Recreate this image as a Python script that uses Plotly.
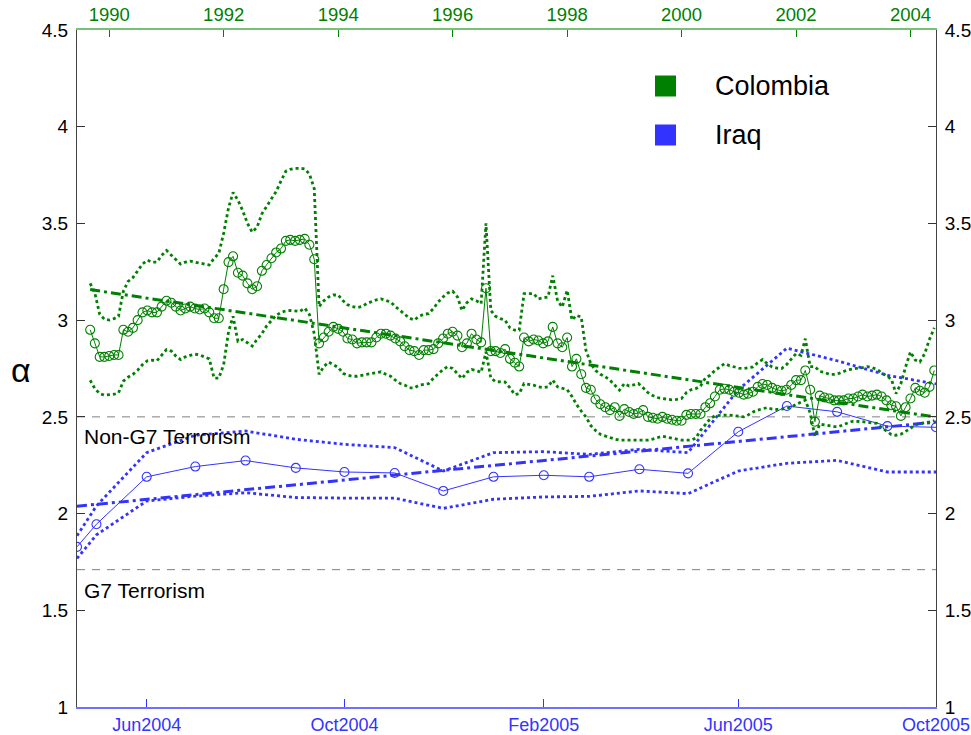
import pandas as pd
import plotly.graph_objects as go

# ---------------- data ----------------
series_names = ["Colombia", "Iraq"]

# Colombia: monthly estimates (top time axis)
col_start = "1989-09-01"
col_alpha = [
    2.95, 2.88, 2.81, 2.81, 2.815, 2.82, 2.82, 2.95, 2.94, 2.96,
    3.00, 3.04, 3.05, 3.04, 3.04, 3.07, 3.10, 3.09, 3.07, 3.05,
    3.06, 3.07, 3.06, 3.055, 3.06, 3.04, 3.01, 3.01, 3.16, 3.30,
    3.33, 3.245, 3.23, 3.19, 3.16, 3.175, 3.255, 3.285, 3.32, 3.35,
    3.37, 3.41, 3.415, 3.41, 3.415, 3.42, 3.39, 3.315, 2.88, 2.91,
    2.94, 2.965, 2.955, 2.94, 2.905, 2.90, 2.88, 2.885, 2.885, 2.885,
    2.91, 2.93, 2.93, 2.92, 2.905, 2.89, 2.865, 2.845, 2.84, 2.82,
    2.845, 2.845, 2.85, 2.88, 2.905, 2.93, 2.94, 2.92, 2.86, 2.88,
    2.93, 2.90, 2.885, 3.165, 2.84, 2.84, 2.83, 2.85, 2.80, 2.78,
    2.76, 2.91, 2.89, 2.90, 2.895, 2.88, 2.89, 2.965, 2.88, 2.86,
    2.91, 2.76, 2.80, 2.72, 2.65, 2.64, 2.59, 2.565, 2.55, 2.535,
    2.55, 2.505, 2.54, 2.525, 2.515, 2.52, 2.535, 2.50, 2.495, 2.49,
    2.50, 2.49, 2.485, 2.48, 2.48, 2.51, 2.515, 2.515, 2.515, 2.55,
    2.57, 2.605, 2.64, 2.645, 2.64, 2.63, 2.625, 2.615, 2.62, 2.63,
    2.655, 2.67, 2.665, 2.65, 2.64, 2.635, 2.64, 2.665, 2.69, 2.69,
    2.74, 2.64, 2.475, 2.61, 2.60, 2.595, 2.585, 2.585, 2.585, 2.595,
    2.595, 2.605, 2.615, 2.605, 2.61, 2.615, 2.605, 2.585, 2.56, 2.555,
    2.505, 2.55, 2.595, 2.65, 2.635, 2.625, 2.655, 2.74,
]
col_upper = [
    3.19, 3.14, 3.03, 3.005, 3.00, 3.008, 3.02, 3.15, 3.20, 3.22,
    3.255, 3.29, 3.31, 3.30, 3.30, 3.335, 3.36, 3.335, 3.31, 3.29,
    3.30, 3.305, 3.30, 3.295, 3.29, 3.285, 3.32, 3.345, 3.45, 3.58,
    3.66, 3.62, 3.567, 3.50, 3.455, 3.48, 3.55, 3.59, 3.63, 3.665,
    3.72, 3.77, 3.78, 3.785, 3.785, 3.782, 3.756, 3.68, 3.07, 3.10,
    3.12, 3.13, 3.13, 3.10, 3.08, 3.07, 3.065, 3.07, 3.085, 3.095,
    3.105, 3.11, 3.10, 3.094, 3.07, 3.05, 3.03, 3.01, 3.00, 3.02,
    3.03, 3.034, 3.06, 3.094, 3.12, 3.14, 3.15, 3.12, 3.05, 3.09,
    3.11, 3.10, 3.085, 3.50, 3.05, 3.02, 3.008, 3.00, 2.96, 2.948,
    2.948, 3.137, 3.137, 3.137, 3.11, 3.115, 3.12, 3.23, 3.10, 3.068,
    3.154, 3.00, 3.025, 3.016, 2.844, 2.775, 2.74, 2.72, 2.707, 2.69,
    2.665, 2.638, 2.672, 2.66, 2.665, 2.672, 2.65, 2.625, 2.61, 2.60,
    2.595, 2.59, 2.588, 2.59, 2.595, 2.625, 2.64, 2.646, 2.66, 2.70,
    2.715, 2.74, 2.76, 2.775, 2.765, 2.758, 2.752, 2.75, 2.752, 2.758,
    2.78, 2.796, 2.775, 2.758, 2.752, 2.75, 2.77, 2.80, 2.827, 2.818,
    2.904, 2.76, 2.76, 2.735, 2.73, 2.72, 2.72, 2.725, 2.735, 2.744,
    2.748, 2.75, 2.755, 2.76, 2.755, 2.745, 2.73, 2.715, 2.695, 2.62,
    2.672, 2.758, 2.836, 2.793, 2.784, 2.827, 2.90, 2.96,
]
col_lower = [
    2.689, 2.646, 2.62, 2.612, 2.615, 2.617, 2.624, 2.685, 2.705, 2.72,
    2.741, 2.77, 2.79, 2.793, 2.79, 2.818, 2.848, 2.84, 2.815, 2.796,
    2.81, 2.818, 2.824, 2.82, 2.81, 2.80, 2.70, 2.70, 2.77, 2.94,
    3.02, 2.89, 2.90, 2.885, 2.866, 2.90, 2.93, 2.97, 3.00, 3.025,
    3.04, 3.048, 3.05, 3.047, 3.045, 3.062, 3.03, 2.93, 2.72, 2.76,
    2.783, 2.77, 2.755, 2.725, 2.715, 2.71, 2.71, 2.715, 2.72, 2.725,
    2.73, 2.733, 2.72, 2.71, 2.69, 2.672, 2.665, 2.65, 2.65, 2.664,
    2.668, 2.672, 2.70, 2.724, 2.745, 2.76, 2.75, 2.724, 2.698, 2.73,
    2.745, 2.74, 2.73, 2.836, 2.70, 2.682, 2.68, 2.68, 2.65, 2.615,
    2.62, 2.672, 2.668, 2.664, 2.655, 2.652, 2.655, 2.69, 2.655, 2.648,
    2.641, 2.605, 2.565, 2.53, 2.50, 2.455, 2.43, 2.41, 2.40, 2.393,
    2.385, 2.38, 2.38, 2.38, 2.382, 2.383, 2.382, 2.38, 2.385, 2.393,
    2.40, 2.395, 2.388, 2.385, 2.38, 2.38, 2.38, 2.39, 2.43, 2.46,
    2.49, 2.505, 2.509, 2.509, 2.509, 2.505, 2.503, 2.50, 2.51, 2.525,
    2.535, 2.542, 2.548, 2.54, 2.538, 2.54, 2.545, 2.55, 2.565, 2.578,
    2.586, 2.52, 2.40, 2.462, 2.458, 2.452, 2.45, 2.45, 2.462, 2.47,
    2.478, 2.478, 2.475, 2.472, 2.468, 2.466, 2.445, 2.425, 2.408, 2.405,
    2.41, 2.425, 2.44, 2.46, 2.466, 2.469, 2.474, 2.48,
]
col_trend = [3.158, 2.50]  # linear fit, first and last month

# Iraq: monthly estimates (bottom time axis)
irq_dates = [
    "2004-04-19", "2004-05-01", "2004-06-01", "2004-07-01", "2004-08-01",
    "2004-09-01", "2004-10-01", "2004-11-01", "2004-12-01", "2005-01-01",
    "2005-02-01", "2005-03-01", "2005-04-01", "2005-05-01", "2005-06-01",
    "2005-07-01", "2005-08-01", "2005-09-01", "2005-10-01",
]
irq_alpha = [1.828, 1.945, 2.19, 2.243, 2.274, 2.236, 2.215, 2.21, 2.117, 2.19,
             2.198, 2.19, 2.229, 2.208, 2.423, 2.556, 2.526, 2.452, 2.446]
irq_upper = [1.885, 2.04, 2.315, 2.405, 2.427, 2.384, 2.358, 2.341, 2.22, 2.315,
             2.32, 2.306, 2.332, 2.315, 2.64, 2.855, 2.79, 2.715, 2.67]
irq_lower = [1.768, 1.89, 2.065, 2.09, 2.108, 2.083, 2.08, 2.08, 2.027, 2.074,
             2.086, 2.089, 2.117, 2.103, 2.22, 2.26, 2.275, 2.215, 2.215]
irq_trend = [2.038, 2.473]

# reference levels
ref_levels = [2.5, 1.71]
ref_labels = ["Non-G7 Terrorism", "G7 Terrorism"]
ref_label_y = [2.40, 1.60]

# tick labels
top_tick_years = ["1990", "1992", "1994", "1996", "1998", "2000", "2002", "2004"]
bottom_tick_dates = ["2004-06-01", "2004-10-01", "2005-02-01", "2005-06-01", "2005-10-01"]
bottom_tick_text = ["Jun2004", "Oct2004", "Feb2005", "Jun2005", "Oct2005"]
y_ticks = [1, 1.5, 2, 2.5, 3, 3.5, 4, 4.5]

# ---------------- styling ----------------
GREEN = "#008000"
BLUE = "#3333ff"
FONT = "Liberation Sans, Arial, sans-serif"
DOT = "3px,3px"
DASHDOT = "10px,4px,3px,4px"

col_dates = pd.date_range(col_start, periods=len(col_alpha), freq="MS")
irq_x = pd.to_datetime(irq_dates)

fig = go.Figure()

# Iraq (bottom axis x, left axis y)
for band in (irq_upper, irq_lower):
    fig.add_trace(go.Scatter(x=irq_x, y=band, mode="lines", xaxis="x", yaxis="y",
                             line=dict(color=BLUE, width=2.8, dash=DOT),
                             showlegend=False, hoverinfo="skip"))
fig.add_trace(go.Scatter(x=[irq_x[0], irq_x[-1]], y=irq_trend, mode="lines",
                         xaxis="x", yaxis="y",
                         line=dict(color=BLUE, width=3, dash=DASHDOT),
                         showlegend=False, hoverinfo="skip"))
fig.add_trace(go.Scatter(x=irq_x, y=irq_alpha, mode="lines+markers", xaxis="x", yaxis="y",
                         name=series_names[1],
                         line=dict(color=BLUE, width=1),
                         marker=dict(symbol="circle-open", size=9, color=BLUE, line=dict(width=1.1)),
                         showlegend=False))

# Colombia (top axis x2, right axis y2 - same scale)
for band in (col_upper, col_lower):
    fig.add_trace(go.Scatter(x=col_dates, y=band, mode="lines", xaxis="x2", yaxis="y2",
                             line=dict(color=GREEN, width=2.8, dash=DOT),
                             showlegend=False, hoverinfo="skip"))
fig.add_trace(go.Scatter(x=[col_dates[0], col_dates[-1]], y=col_trend, mode="lines",
                         xaxis="x2", yaxis="y2",
                         line=dict(color=GREEN, width=3, dash=DASHDOT),
                         showlegend=False, hoverinfo="skip"))
fig.add_trace(go.Scatter(x=col_dates, y=col_alpha, mode="lines+markers", xaxis="x2", yaxis="y2",
                         name=series_names[0],
                         line=dict(color=GREEN, width=1),
                         marker=dict(symbol="circle-open", size=9, color=GREEN, line=dict(width=1.1)),
                         showlegend=False))

L, R, T, B = 77, 35, 30, 28
W, H = 971, 735
pw, ph = W - L - R, H - T - B


def px(x):
    return (x - L) / pw


def py(y):
    return (H - B - y) / ph


shapes = []
for lv in ref_levels:
    shapes.append(dict(type="line", xref="paper", x0=0, x1=1, yref="y", y0=lv, y1=lv,
                       line=dict(color="#7f7f7f", width=1, dash="8px,7px"), layer="below"))

annotations = []
for lab, ly in zip(ref_labels, ref_label_y):
    annotations.append(dict(text=lab, xref="paper", x=px(82), yref="y", y=ly,
                            xanchor="left", yanchor="middle", showarrow=False,
                            font=dict(family=FONT, size=21, color="black")))
annotations.append(dict(text="α", xref="paper", x=px(21), yref="paper", y=py(370),
                        xanchor="center", yanchor="middle", showarrow=False,
                        font=dict(family=FONT, size=34, color="black")))

# legend keys
for name, color, cy in zip(series_names, [GREEN, BLUE], [86, 135]):
    shapes.append(dict(type="rect", xref="paper", yref="paper",
                       x0=px(655), x1=px(676), y0=py(cy + 10.5), y1=py(cy - 10.5),
                       fillcolor=color, line=dict(width=0)))
    annotations.append(dict(text=name, xref="paper", x=px(713), yref="paper", y=py(cy),
                            xanchor="left", yanchor="middle", showarrow=False,
                            font=dict(family=FONT, size=27, color="black")))

yax = dict(range=[1, 4.5], tickvals=y_ticks, ticks="inside", ticklen=8, tickcolor="#333333",
           showline=True, linecolor="#444444", linewidth=1, showgrid=False, zeroline=False,
           automargin=False, ticklabelstandoff=4,
           tickfont=dict(family=FONT, size=19, color="black"))

fig.update_layout(
    width=W, height=H,
    margin=dict(l=L, r=R, t=T, b=B, autoexpand=False),
    paper_bgcolor="white", plot_bgcolor="white",
    showlegend=False,
    xaxis=dict(type="date", range=[irq_dates[0], "2005-10-01"], tickvals=bottom_tick_dates,
               ticktext=bottom_tick_text, ticks="inside", ticklen=8, tickcolor=BLUE,
               showline=True, linecolor="#7070ff", linewidth=1.5, showgrid=False, zeroline=False,
               automargin=False, ticklabelstandoff=1,
               tickfont=dict(family=FONT, size=18, color=BLUE), anchor="y"),
    xaxis2=dict(type="date", overlaying="x", side="top", range=["1989-06-09", "2004-06-12"],
                tickvals=[f"{y}-01-01" for y in top_tick_years], ticktext=top_tick_years,
                ticks="inside", ticklen=7, tickcolor=GREEN,
                showline=True, linecolor="#78c078", linewidth=1.5, showgrid=False, zeroline=False,
                automargin=False,
                tickfont=dict(family=FONT, size=18.5, color=GREEN), anchor="y2"),
    yaxis=dict(side="left", anchor="x", **yax),
    yaxis2=dict(side="right", overlaying="y", anchor="x2", **yax),
    shapes=shapes,
    annotations=annotations,
)

fig.write_html("out.html", config={"displayModeBar": False},
               post_script="document.body.style.margin='0';document.body.style.padding='0';")
